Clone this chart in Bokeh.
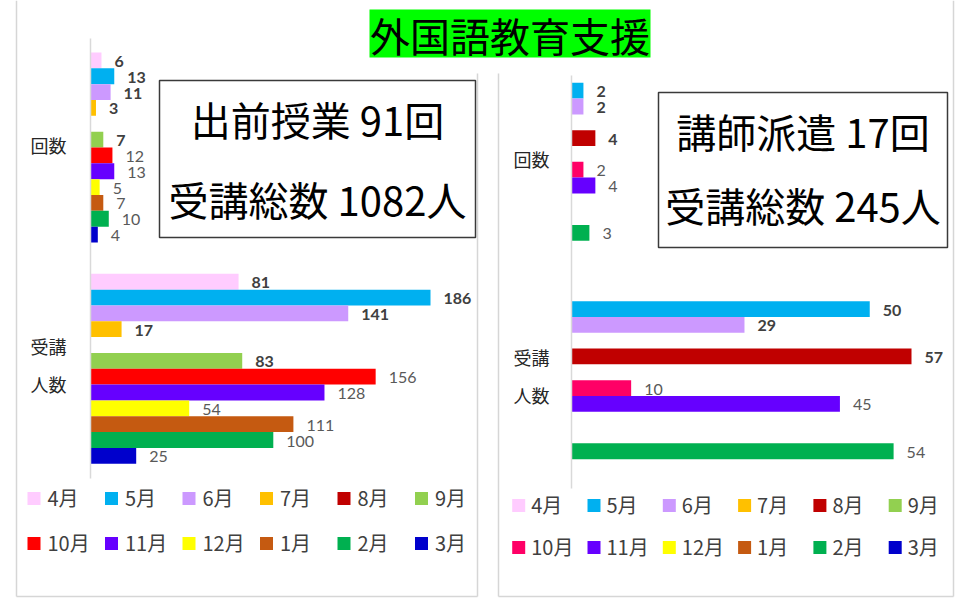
from bokeh.plotting import figure
from bokeh.models import Range1d, ColumnDataSource
from bokeh.core.properties import value
from bokeh.embed import file_html
from bokeh.resources import INLINE

# ---------------- data ----------------
title_text = "外国語教育支援"
months = ["4月", "5月", "6月", "7月", "8月", "9月", "10月", "11月", "12月", "1月", "2月", "3月"]
categories = ["回数", "受講\n人数"]

# left panel : 出前授業
lesson_counts = [6, 13, 11, 3, None, 7, 12, 13, 5, 7, 10, 4]
lesson_people = [81, 186, 141, 17, None, 83, 156, 128, 54, 111, 100, 25]

# right panel : 講師派遣
dispatch_counts = [None, 2, 2, None, 4, None, 2, 4, None, None, 3, None]
dispatch_people = [None, 50, 29, None, 57, None, 10, 45, None, None, 54, None]

left_colors = ["#FFCCFF", "#00B0F0", "#CC99FF", "#FFC000", "#C00000", "#92D050",
               "#FF0000", "#6600FF", "#FFFF00", "#C55A11", "#00B050", "#0000CC"]
right_colors = ["#FFCCFF", "#00B0F0", "#CC99FF", "#FFC000", "#C00000", "#92D050",
                "#FF0066", "#6600FF", "#FFFF00", "#C55A11", "#00B050", "#0000CC"]
label_bold = [True] * 6 + [False] * 6

# ---------------- figure ----------------
W, H = 965, 600
X0, Y0 = 0, 0
p = figure(width=W, height=H, x_range=Range1d(X0, X0 + W), y_range=Range1d(Y0 + H, Y0),
           output_backend="svg", toolbar_location=None, min_border=0,
           x_axis_type=None, y_axis_type=None)
p.outline_line_color = None
p.xgrid.visible = False
p.ygrid.visible = False
p.background_fill_color = "white"
p.border_fill_color = "white"

JP = value("Noto Sans CJK JP")
BORDER = "#D6D6D6"

# panel frames
p.segment(x0=[16, 477, 498, 953, 16, 498], x1=[16, 477, 498, 953, 477, 953],
          y0=[0, 73, 73, 0, 596, 596], y1=[596, 596, 596, 596, 596, 596],
          line_color=BORDER, line_width=1.5)

# title
p.quad(left=[369], right=[650], top=[9], bottom=[57], fill_color="#00FF00", line_color=None)
p.text(x=[509.5], y=[34], text=[title_text], text_font=JP, text_font_size="40px",
       text_color="black", text_align="center", text_baseline="middle")


def panel(key, counts, people, colors, axis_px, px_per_unit, top_px, slot_px, gap_slots,
          axis_top, axis_bottom, cat_x, box, box_lines, legend_x0, legend_dx, legend_y0, legend_dy,
          legend_text_dx):
    xr, yr = key + "x", key + "y"
    p.extra_x_ranges[xr] = Range1d((X0 - axis_px) / px_per_unit, (X0 + W - axis_px) / px_per_unit)
    p.extra_y_ranges[yr] = Range1d((Y0 + H - top_px) / slot_px, (Y0 - top_px) / slot_px)

    rows = dict(s=[], v=[], color=[], label=[], style=[], tcolor=[])
    for c, vals in enumerate([counts, people]):
        for m, v in enumerate(vals):
            if v is None:
                continue
            rows["s"].append(c * (12 + gap_slots) + m + 0.5)
            rows["v"].append(v)
            rows["color"].append(colors[m])
            rows["label"].append(str(v))
            rows["style"].append("bold" if label_bold[m] else "normal")
            rows["tcolor"].append("#404040" if label_bold[m] else "#595959")
    src = ColumnDataSource(rows)

    p.hbar(y="s", left=0, right="v", height=1.0, fill_color="color", line_color=None,
           source=src, x_range_name=xr, y_range_name=yr)
    p.text(x="v", y="s", text="label", source=src, x_offset=13, y_offset=1,
           text_font=value("Lato"), text_font_size="16px", text_font_style="style",
           text_color="tcolor", text_align="left", text_baseline="middle",
           x_range_name=xr, y_range_name=yr)

    # category axis line
    p.segment(x0=[0], x1=[0], y0=[axis_top], y1=[axis_bottom], line_color="#D9D9D9",
              line_width=1.5, x_range_name=xr)
    # category labels
    p.text(x=[cat_x, cat_x], y=[6 - 0.15, 12 + gap_slots + 6 - 0.25], text=categories,
           text_font=JP, text_font_size="18px", text_color="#262626", text_align="left",
           text_baseline="middle", text_line_height=1.48, y_range_name=yr)

    # summary box
    l, r, t, b = box
    p.quad(left=[l], right=[r], top=[t], bottom=[b], fill_color="white",
           line_color="#3A3A3A", line_width=1.5)
    cx = (l + r) / 2
    p.text(x=[cx, cx], y=[box_lines[0][1], box_lines[1][1]],
           text=[box_lines[0][0], box_lines[1][0]], text_font=JP, text_font_size="40px",
           text_color="black", text_align="center", text_baseline="middle")

    # legend
    lx = [legend_x0 + (i % 6) * legend_dx for i in range(12)]
    ly = [legend_y0 + (i // 6) * legend_dy for i in range(12)]
    p.rect(x=[v + 6.5 for v in lx], y=ly, width=13, height=13, fill_color=colors,
           line_color=None)
    p.text(x=[v + legend_text_dx for v in lx], y=[v - 1 for v in ly], text=months,
           text_font=JP, text_font_size="20px", text_color="#404040", text_align="left",
           text_baseline="middle")


panel("L", lesson_counts, lesson_people, left_colors,
      axis_px=90, px_per_unit=340 / 186, top_px=52, slot_px=15.83, gap_slots=1.98,
      axis_top=38, axis_bottom=478, cat_x=30,
      box=(159, 475, 80, 237),
      box_lines=[(f"出前授業 {sum(v for v in lesson_counts if v)}回", 118),
                 (f"受講総数 {sum(v for v in lesson_people if v)}人", 198)],
      legend_x0=27, legend_dx=77.5, legend_y0=498, legend_dy=45, legend_text_dx=20)

panel("R", dispatch_counts, dispatch_people, right_colors,
      axis_px=571, px_per_unit=340 / 57, top_px=66.5, slot_px=15.8, gap_slots=1.82,
      axis_top=75, axis_bottom=488, cat_x=513,
      box=(658, 947, 92, 247),
      box_lines=[(f"講師派遣 {sum(v for v in dispatch_counts if v)}回", 130),
                 (f"受講総数 {sum(v for v in dispatch_people if v)}人", 204)],
      legend_x0=511.7, legend_dx=75.3, legend_y0=505, legend_dy=42, legend_text_dx=19)

open("out.html", "w").write(file_html(p, INLINE))
